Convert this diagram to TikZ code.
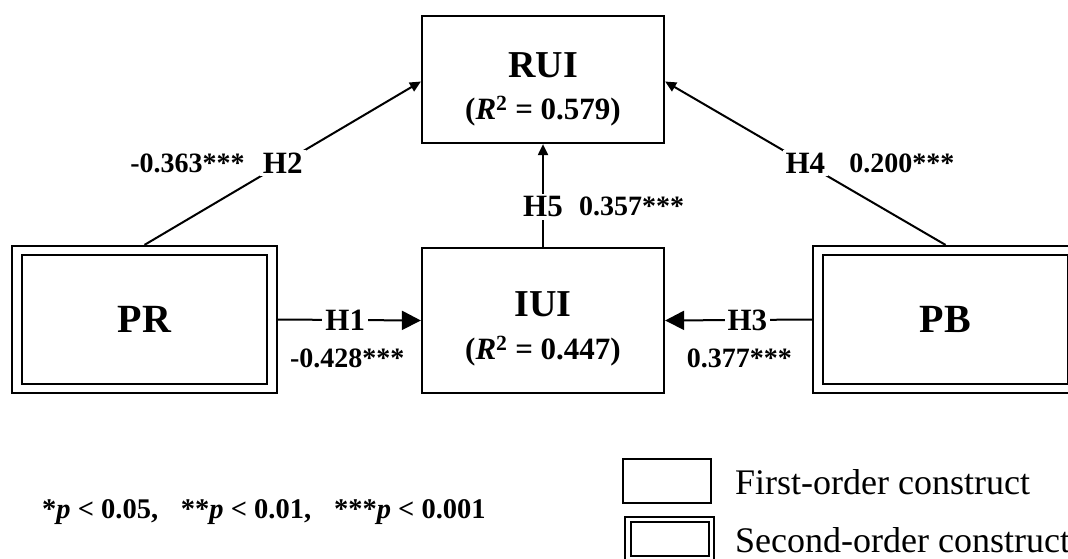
\documentclass[tikz,border=0pt]{standalone}
\usepackage{fontspec}
\setmainfont{Liberation Serif}
\usetikzlibrary{arrows.meta}
\tikzset{
  box/.style={draw, line width=2.2pt, minimum width=242pt, align=center, font=\bfseries, inner sep=0pt},
  outerbox/.style={draw, line width=2.2pt, minimum width=265pt, minimum height=147pt, font=\bfseries\fontsize{40}{42}\selectfont, inner sep=0pt},
  innerline/.style={draw, line width=2.2pt},
  conn/.style={line width=2pt},
  bigtip/.style={-{Triangle[length=19pt,width=19pt]}},
  smalltip/.style={-{Triangle[length=11pt,width=10pt]}},
  hlab/.style={fill=white, inner sep=3pt, font=\bfseries\fontsize{31}{32}\selectfont},
  coef/.style={inner sep=0pt, font=\bfseries\fontsize{28}{29}\selectfont},
  legbox/.style={draw, line width=2pt, minimum width=88pt, minimum height=44pt, inner sep=0pt},
  legtext/.style={anchor=west, inner sep=0pt, font=\fontsize{36}{38}\selectfont},
}
\newcommand{\bigname}{\fontsize{38}{38}\selectfont}
\newcommand{\rline}{\fontsize{31}{33}\selectfont}
\begin{document}
\begin{tikzpicture}[x=1pt,y=-1pt]
\useasboundingbox (0,0) rectangle (1068,558);
\clip (0,0) rectangle (1068,558);
% boxes
\node[box, minimum height=127pt] (RUI) at (543,79.5) {{\bigname\rule{0pt}{44pt}RUI}\\[17pt]{\rline (\textit{R}\textsuperscript{2} = 0.579)}};
\node[box, minimum height=145pt] (IUI) at (543,320.5) {{\bigname\rule{0pt}{42pt}IUI}\\[18pt]{\rline (\textit{R}\textsuperscript{2} = 0.447)}};
\node[outerbox] (PR) at (144.5,319.5) {PR};
\draw[innerline] ([xshift=11pt,yshift=-10pt]PR.north west) rectangle ([xshift=-11pt,yshift=10pt]PR.south east);
\node[outerbox] (PB) at (945.5,319.5) {PB};
\draw[innerline] ([xshift=11pt,yshift=-10pt]PB.north west) rectangle ([xshift=-11pt,yshift=10pt]PB.south east);
% connectors
\draw[conn, bigtip] (PR.east) -- node[hlab, pos=0.47] (h1) {H1} (IUI.west);
\draw[conn, bigtip] (PB.west) -- node[hlab, pos=0.44] (h3) {H3} (IUI.east);
\draw[conn, smalltip] (PR.north) -- node[hlab, pos=0.5] (h2) {H2} ([yshift=-2pt]RUI.west);
\draw[conn, smalltip] (PB.north) -- node[hlab, pos=0.5] (h4) {H4} ([yshift=-2pt]RUI.east);
\draw[conn, smalltip] (IUI.north) -- node[hlab, pos=0.39] (h5) {H5} (RUI.south);
% coefficients
\node[coef] (c1) at ([xshift=2pt,yshift=-38pt]h1.center) {-0.428***};
\node[coef] (c3) at ([xshift=-8pt,yshift=-38pt]h3.center) {0.377***};
\node[coef, anchor=east] (c2) at ([xshift=-14pt]h2.west) {-0.363***};
\node[coef, anchor=west] (c4) at ([xshift=20pt]h4.east) {0.200***};
\node[coef, anchor=west] (c5) at ([xshift=12pt]h5.east) {0.357***};
% footnote
\node[anchor=west, inner sep=0pt, font=\bfseries\fontsize{28.5}{30}\selectfont] (pv) at (42,512) {*\textit{p} < 0.05,\hspace{0.8em}**\textit{p} < 0.01,\hspace{0.8em}***\textit{p} < 0.001};
% legend
\node[legbox] (L1) at (667,481) {};
\node[legbox, minimum width=89pt] (L2) at (669.5,539) {};
\draw[innerline, line width=2pt] ([xshift=7pt,yshift=-6pt]L2.north west) rectangle ([xshift=-6pt,yshift=6pt]L2.south east);
\node[legtext] (t1) at (735,482) {First-order construct};
\node[legtext] (t2) at (735,540) {Second-order construct};
\end{tikzpicture}
\end{document}
